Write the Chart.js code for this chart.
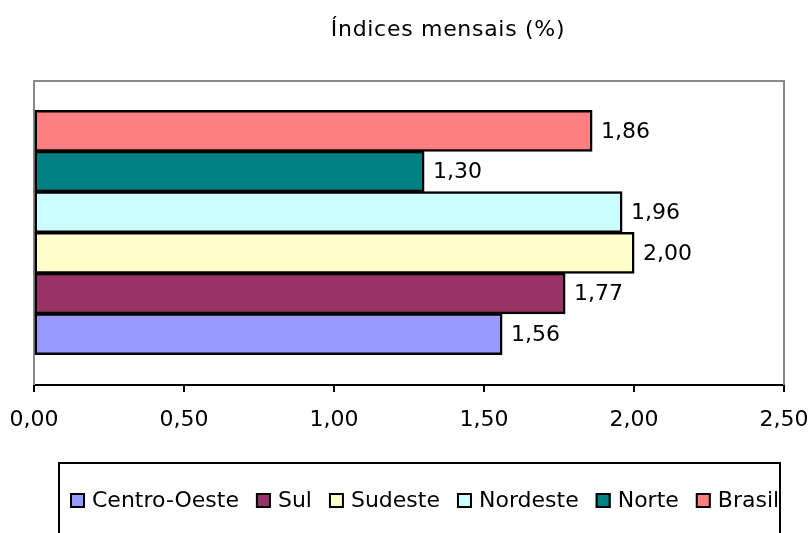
<!DOCTYPE html>
<html>
<head>
<meta charset="utf-8">
<script src="https://cdn.jsdelivr.net/npm/chart.js@4/dist/chart.umd.min.js"></script>
<style>
  body { margin: 0; background: #fff; }
  #wrap { width: 812px; height: 533px; }
</style>
</head>
<body>
<div id="wrap"><canvas id="c" width="812" height="533"></canvas></div>
<script>
// dados
const regioes = ["Centro-Oeste", "Sul", "Sudeste", "Nordeste", "Norte", "Brasil"];
const indices = [1.56, 1.77, 2.00, 1.96, 1.30, 1.86];
const cores = ["#9999FF", "#993366", "#FFFFCC", "#CCFFFF", "#008080", "#FF8080"];
const xTicks = [0, 0.5, 1, 1.5, 2, 2.5];
const titulo = "Índices mensais (%)";

const FONT = "DejaVu Sans";
Chart.defaults.font.family = FONT;
Chart.defaults.color = "#000";

const fmt = (v) => v.toFixed(2).replace(".", ",");

// first dataset sits on top -> Brasil first
const datasets = regioes
  .map((r, i) => ({
    label: r,
    data: [indices[i]],
    backgroundColor: cores[i],
    borderColor: "#000",
    borderWidth: 2.5,
    inflateAmount: 0.5,
    borderSkipped: false,
  }))
  .reverse();

// title, plot border, value labels and legend box
const extras = {
  id: "extras",
  beforeDatasetsDraw(chart) {
    const { ctx, chartArea: a } = chart;
    ctx.save();
    ctx.strokeStyle = "#8a8a8a";
    ctx.lineWidth = 2;
    ctx.beginPath();
    ctx.moveTo(a.left, a.bottom);
    ctx.lineTo(a.left, a.top + 1);
    ctx.lineTo(a.right, a.top + 1);
    ctx.lineTo(a.right, a.bottom);
    ctx.stroke();
    ctx.restore();
  },
  afterDatasetsDraw(chart) {
    const ctx = chart.ctx;
    ctx.save();
    ctx.font = "22px " + FONT;
    ctx.fillStyle = "#000";
    ctx.textAlign = "left";
    ctx.textBaseline = "middle";
    chart.data.datasets.forEach((ds, i) => {
      const el = chart.getDatasetMeta(i).data[0];
      ctx.fillText(fmt(ds.data[0]), el.x + 9, el.y + 1);
    });
    ctx.restore();
  },
  afterDraw(chart) {
    const ctx = chart.ctx;
    ctx.save();
    // title
    ctx.font = "22px " + FONT;
    ctx.letterSpacing = "0.7px";
    ctx.fillStyle = "#000";
    ctx.textAlign = "center";
    ctx.textBaseline = "alphabetic";
    ctx.fillText(titulo, 448, 36);
    ctx.letterSpacing = "0px";

    // legend
    ctx.strokeStyle = "#000";
    ctx.lineWidth = 2;
    ctx.strokeRect(59, 463, 721, 100);
    ctx.font = "22px " + FONT;
    ctx.textAlign = "left";
    ctx.textBaseline = "middle";
    let x = 70;
    regioes.forEach((r, i) => {
      ctx.fillStyle = cores[i];
      ctx.fillRect(x, 493, 15, 15);
      ctx.strokeRect(x + 1, 494, 13, 13);
      ctx.fillStyle = "#000";
      ctx.fillText(r, x + 22, 501);
      x += 22 + ctx.measureText(r).width + 17;
    });
    ctx.restore();
  },
};

new Chart(document.getElementById("c"), {
  type: "bar",
  data: { labels: [""], datasets },
  options: {
    indexAxis: "y",
    responsive: false,
    animation: false,
    layout: { padding: { left: 34, top: 80, right: 28, bottom: 0 } },
    datasets: { bar: { categoryPercentage: 0.8, barPercentage: 1 } },
    plugins: { legend: { display: false }, title: { display: false }, tooltip: { enabled: false } },
    scales: {
      y: { display: false },
      x: {
        min: 0,
        max: 2.5,
        afterBuildTicks: (s) => { s.ticks = xTicks.map((v) => ({ value: v })); },
        afterFit: (s) => {
          s.height = 148;
          s.paddingLeft = 0;
          s.paddingRight = 0;
        },
        border: { display: true, color: "#000", width: 2 },
        grid: { drawOnChartArea: false, drawTicks: true, tickLength: 7, color: "#000", lineWidth: 2 },
        ticks: {
          font: { size: 22 },
          color: "#000",
          padding: 15,
          maxRotation: 0,
          callback: (v) => fmt(v),
        },
      },
    },
  },
  plugins: [extras],
});
</script>
</body>
</html>
